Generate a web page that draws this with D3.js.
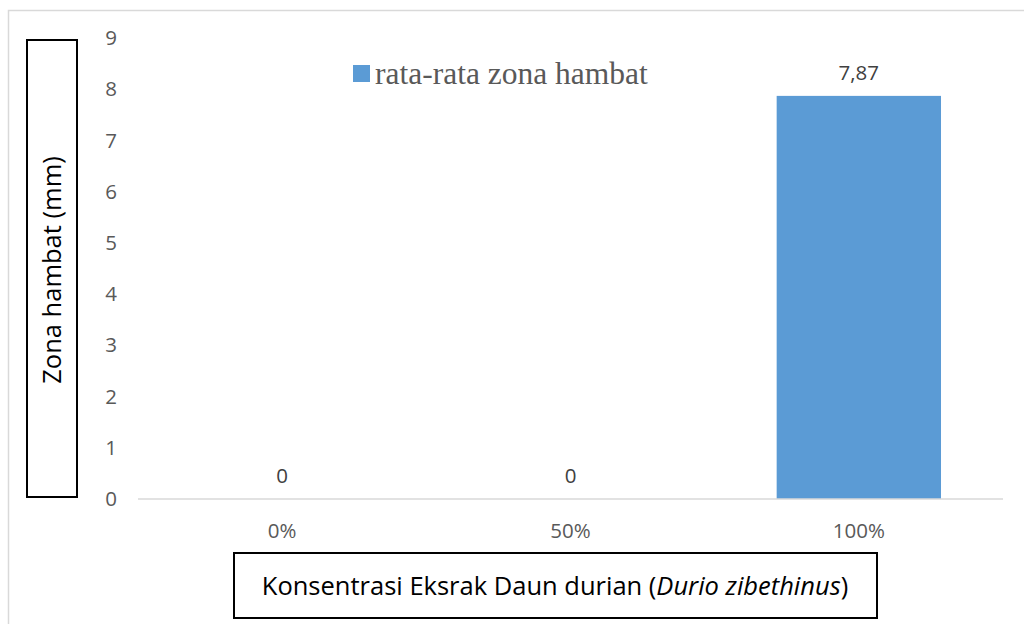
<!DOCTYPE html>
<html lang="id">
<head>
<meta charset="UTF-8">
<title>Zona hambat</title>
<script src="https://d3js.org/d3.v7.min.js"></script>
<style>
  body { margin: 0; background: #fff; }
  svg { display: block; font-family: "Open Sans", sans-serif; }
</style>
</head>
<body>
<svg id="chart" width="1024" height="624"></svg>
<script>
// data
const categories = ['0%', '50%', '100%'];
const values = [0, 0, 7.87];
const yTicks = [0, 1, 2, 3, 4, 5, 6, 7, 8, 9];
const seriesName = 'rata-rata zona hambat';
const yTitle = 'Zona hambat (mm)';

const svg = d3.select('#chart');

// outer chart border (cropped on right/bottom)
svg.append('rect')
  .attr('x', 8.5).attr('y', 10.5)
  .attr('width', 1030).attr('height', 640)
  .attr('fill', 'none').attr('stroke', '#d9d9d9').attr('stroke-width', 1.5);

const x = d3.scaleBand()
  .domain(categories)
  .range([138, 1003])
  .paddingInner(0.43)
  .paddingOuter(0.215);

const y = d3.scaleLinear().domain([0, 9]).range([499, 38]);

// y tick labels
const yAxis = svg.append('g')
  .attr('transform', 'translate(117,0)')
  .call(d3.axisLeft(y).tickValues(yTicks).tickSize(0).tickPadding(0));
yAxis.select('.domain').remove();
yAxis.selectAll('text')
  .attr('font-family', '"Open Sans", sans-serif')
  .attr('font-size', 20.5)
  .attr('fill', '#595959');

// bars
svg.append('g').selectAll('rect')
  .data(values)
  .join('rect')
  .attr('x', (d, i) => x(categories[i]))
  .attr('width', x.bandwidth())
  .attr('y', d => y(d))
  .attr('height', d => y(0) - y(d))
  .attr('fill', '#5b9bd5');

// baseline
svg.append('line')
  .attr('x1', x.range()[0]).attr('x2', x.range()[1])
  .attr('y1', y(0)).attr('y2', y(0))
  .attr('stroke', '#d9d9d9').attr('stroke-width', 1.5);

// value labels
svg.append('g').selectAll('text')
  .data(values)
  .join('text')
  .attr('x', (d, i) => x(categories[i]) + x.bandwidth() / 2)
  .attr('y', d => y(d) - 16)
  .attr('text-anchor', 'middle')
  .attr('font-size', 20.5)
  .attr('fill', '#404040')
  .text(d => d3.format('.2~f')(d).replace('.', ','));

// category labels
const xAxis = svg.append('g')
  .attr('transform', `translate(0,${y(0)})`)
  .call(d3.axisBottom(x).tickSize(0).tickPadding(24));
xAxis.select('.domain').remove();
xAxis.selectAll('text')
  .attr('font-family', '"Open Sans", sans-serif')
  .attr('font-size', 20.5)
  .attr('fill', '#595959');

// legend
const lg = svg.append('g');
lg.append('rect')
  .attr('x', 353).attr('y', 65).attr('width', 17).attr('height', 17)
  .attr('fill', '#5b9bd5');
lg.append('text')
  .attr('x', 375).attr('y', 84)
  .attr('font-family', '"Liberation Serif", "Times New Roman", serif')
  .attr('font-size', 31.5)
  .attr('fill', '#595959')
  .text(seriesName);

// y title in box
svg.append('rect')
  .attr('x', 27).attr('y', 40).attr('width', 50).attr('height', 457)
  .attr('fill', 'none').attr('stroke', '#000').attr('stroke-width', 2);
svg.append('text')
  .attr('transform', 'translate(61,270) rotate(-90)')
  .attr('text-anchor', 'middle')
  .attr('font-size', 25.5)
  .attr('fill', '#000')
  .text(yTitle);

// x title in box
svg.append('rect')
  .attr('x', 234).attr('y', 553).attr('width', 643).attr('height', 65)
  .attr('fill', 'none').attr('stroke', '#000').attr('stroke-width', 2);
const xt = svg.append('text')
  .attr('x', 555).attr('y', 595)
  .attr('text-anchor', 'middle')
  .attr('font-size', 25.5)
  .attr('fill', '#000');
xt.append('tspan').text('Konsentrasi Eksrak Daun durian (');
xt.append('tspan').attr('font-style', 'italic').text('Durio zibethinus');
xt.append('tspan').text(')');
</script>
</body>
</html>
